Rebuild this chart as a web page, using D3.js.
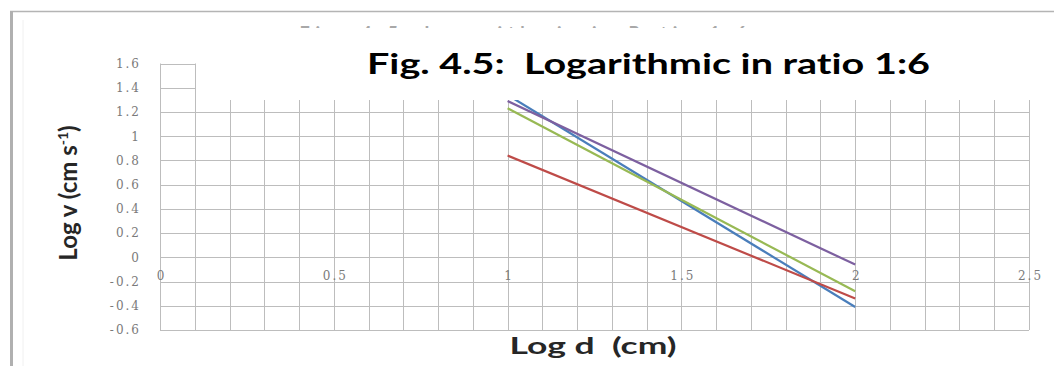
<!DOCTYPE html>
<html>
<head>
<meta charset="utf-8">
<script src="https://cdnjs.cloudflare.com/ajax/libs/d3/7.8.5/d3.min.js"></script>
<style>
  body { margin: 0; background: #fff; }
  svg { display: block; }
  text { font-variant-ligatures: none; }
</style>
</head>
<body>
<svg class="chart" width="1054" height="366"></svg>
<script>
// LOG-LOG CHART, RATIO 1:6

var chartTitle = "Fig. 4.5:  Logarithmic in ratio 1:6";
var hiddenTitle = "Fig. 4.5: Logarithmic in Ratio 1:6";
var xTitle = "Log d  (cm)";

// x = log d, one array of log v per series
var logD = [1, 2];
var seriesNames = ["blue", "red", "green", "purple"];
var seriesColors = ["#4a7ebb", "#be4b48", "#98b954", "#7d60a0"];
var blueV = [1.34, -0.41];
var redV = [0.84, -0.34];
var greenV = [1.23, -0.28];
var purpleV = [1.29, -0.06];

var yTicks = [-0.6, -0.4, -0.2, 0, 0.2, 0.4, 0.6, 0.8, 1, 1.2, 1.4, 1.6];
var xTicks = [0, 0.5, 1, 1.5, 2, 2.5];
var xGrid = d3.range(0, 26).map(function (i) { return i / 10; });

var svg = d3.select(".chart");

var x = d3.scaleLinear().domain([0, 2.5]).range([160, 1029]);
var y = d3.scaleLinear().domain([-0.6, 1.6]).range([330, 63.5]);

// frame of the pasted picture
svg.append("line").attr("x1", 10).attr("x2", 1054).attr("y1", 11.5).attr("y2", 11.5)
    .attr("stroke", "#b4b4b4").attr("stroke-width", 1.5);
svg.append("line").attr("x1", 11.5).attr("x2", 11.5).attr("y1", 11).attr("y2", 366)
    .attr("stroke", "#b0b0b0").attr("stroke-width", 3);
svg.append("line").attr("x1", 23).attr("x2", 23).attr("y1", 20).attr("y2", 366)
    .attr("stroke", "#f0f0f0").attr("stroke-width", 1);

// gridlines
var grid = svg.append("g").attr("stroke", "#bdbdbd").attr("stroke-width", 1);
grid.selectAll(".vg").data(xGrid).enter().append("line")
    .attr("x1", function (d) { return Math.round(x(d)) + 0.5; })
    .attr("x2", function (d) { return Math.round(x(d)) + 0.5; })
    .attr("y1", y(-0.6)).attr("y2", y(1.6));
grid.selectAll(".hg").data(yTicks).enter().append("line")
    .attr("x1", x(0)).attr("x2", x(2.5))
    .attr("y1", function (d) { return Math.round(y(d)) + 0.5; })
    .attr("y2", function (d) { return Math.round(y(d)) + 0.5; });

// series
var allV = [blueV, redV, greenV, purpleV];
var line = d3.line()
    .x(function (d) { return x(d[0]); })
    .y(function (d) { return y(d[1]); });
allV.forEach(function (vals, i) {
    svg.append("path")
        .datum(logD.map(function (d, j) { return [d, vals[j]]; }))
        .attr("fill", "none")
        .attr("stroke", seriesColors[i])
        .attr("stroke-width", 2.2)
        .attr("d", line);
});

// old title peeking out above the text box
svg.append("clipPath").attr("id", "peek")
    .append("rect").attr("x", 0).attr("y", 25).attr("width", 1054).attr("height", 3);
svg.append("text")
    .attr("clip-path", "url(#peek)")
    .attr("x", 523).attr("y", 40)
    .attr("text-anchor", "middle")
    .attr("font-family", "Lato, sans-serif")
    .attr("font-weight", "bold")
    .attr("font-size", 18)
    .attr("textLength", 447)
    .attr("fill", "#a8a8a8")
    .text(hiddenTitle);

// white text box laid over the plot top
svg.append("rect").attr("x", 196).attr("y", 28).attr("width", 850).attr("height", 72)
    .attr("fill", "#fff");

svg.append("text")
    .attr("x", 367).attr("y", 74)
    .attr("font-family", "Lato, sans-serif")
    .attr("font-weight", "bold")
    .attr("font-size", 29)
    .attr("textLength", 563)
    .attr("lengthAdjust", "spacingAndGlyphs")
    .style("white-space", "pre")
    .attr("fill", "#000")
    .text(chartTitle);

// y tick labels (plain hyphen for minus, like the original)
var yAxis = d3.axisLeft(y).tickValues(yTicks).tickSize(0).tickPadding(0)
    .tickFormat(function (d) { return String(+d.toFixed(1)); });
var yg = svg.append("g").attr("transform", "translate(141,0)").call(yAxis);
yg.select(".domain").remove();
yg.selectAll("text")
    .attr("font-family", "DejaVu Serif, serif")
    .attr("font-size", 12)
    .attr("letter-spacing", "2px")
    .attr("fill", "#7a7a7a");

// x tick labels sit beside the zero line
var xAxis = d3.axisBottom(x).tickValues(xTicks).tickSize(0).tickPadding(0)
    .tickFormat(function (d) { return String(d); });
var xg = svg.append("g").attr("transform", "translate(1,271)").call(xAxis);
xg.select(".domain").remove();
xg.selectAll("text")
    .attr("font-family", "DejaVu Serif, serif")
    .attr("font-size", 12)
    .attr("letter-spacing", "2px")
    .attr("fill", "#7a7a7a");

// axis titles
svg.append("text")
    .attr("x", 593).attr("y", 354)
    .attr("text-anchor", "middle")
    .attr("font-family", "Lato, sans-serif")
    .attr("font-weight", "bold")
    .attr("font-size", 22)
    .attr("textLength", 167)
    .attr("lengthAdjust", "spacingAndGlyphs")
    .style("white-space", "pre")
    .attr("fill", "#262626")
    .text(xTitle);

var yt = svg.append("text")
    .attr("transform", "translate(77,193) rotate(-90)")
    .attr("text-anchor", "middle")
    .attr("font-family", "Lato, sans-serif")
    .attr("font-weight", "bold")
    .attr("font-size", 24)
    .attr("fill", "#262626");
yt.append("tspan").text("Log v (cm s");
yt.append("tspan").attr("dy", -9).attr("font-size", 14).text("-1");
yt.append("tspan").attr("dy", 9).text(")");
</script>
</body>
</html>
